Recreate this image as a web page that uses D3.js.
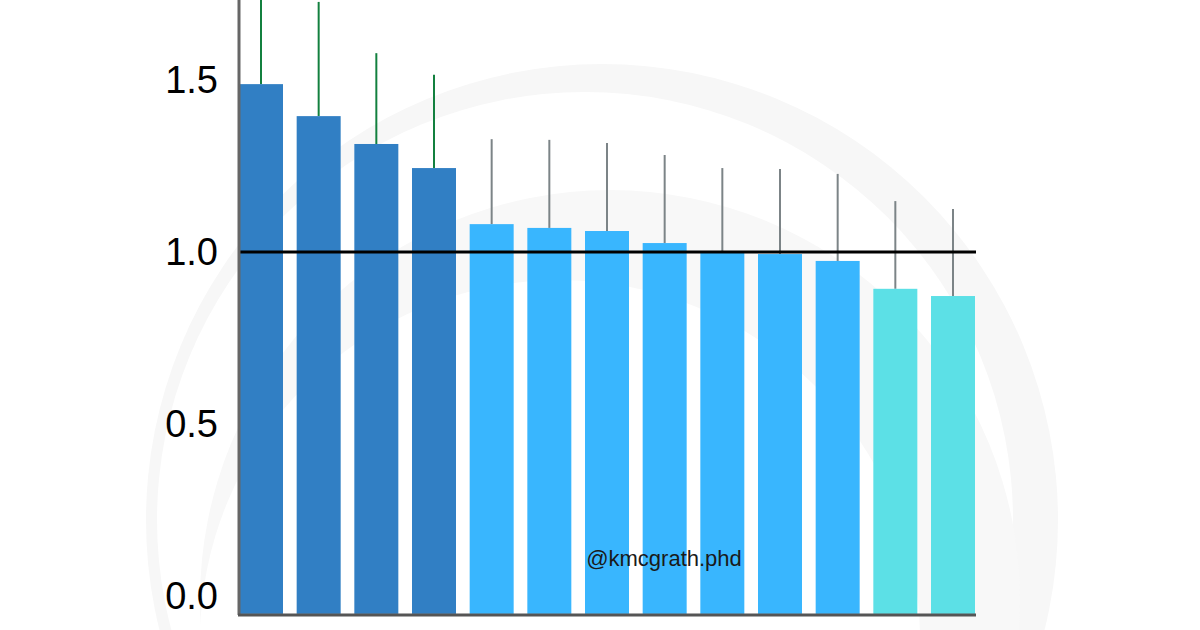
<!DOCTYPE html>
<html>
<head>
<meta charset="utf-8">
<script src="https://cdn.jsdelivr.net/npm/d3@7"></script>
<style>
  html, body { margin: 0; padding: 0; background: #fff; }
  svg { display: block; }
</style>
</head>
<body>
<svg id="chart" width="1200" height="630"></svg>
<script>
// values
var bars = [0, 1, 2, 3, 4, 5, 6, 7, 8, 9, 10, 11, 12];
var values = [1.488, 1.395, 1.314, 1.244, 1.081, 1.070, 1.061, 1.026, 0.997, 0.994, 0.974, 0.893, 0.872];
var upper = [1.80, 1.727, 1.578, 1.515, 1.328, 1.326, 1.317, 1.282, 1.244, 1.241, 1.227, 1.148, 1.125];
var groups = ['high', 'high', 'high', 'high', 'mid', 'mid', 'mid', 'mid', 'mid', 'mid', 'mid', 'low', 'low'];
var yTicks = [0.0, 0.5, 1.0, 1.5];
var refValue = 1.0;
var baseValue = -0.052; // bars run down to the axis line

var fill = { high: '#317fc4', mid: '#39b6fe', low: '#5ce0e6' };
var errColor = { high: '#13803f', mid: '#7c8487', low: '#7c8487' };

var svg = d3.select('#chart');

// faint round watermark behind the plot
var wm = svg.append('g').attr('class', 'watermark');
wm.append('circle').attr('cx', 602).attr('cy', 520).attr('r', 456).attr('fill', '#f7f7f7');
wm.append('circle').attr('cx', 585).attr('cy', 520).attr('r', 428).attr('fill', '#ffffff');
wm.append('circle').attr('cx', 610).attr('cy', 600).attr('r', 410).attr('fill', '#f8f8f8');
wm.append('circle').attr('cx', 560).attr('cy', 640).attr('r', 360).attr('fill', '#ffffff');

var y = d3.scaleLinear().domain([0, 1]).range([596, 252]);
var x = d3.scalePoint().domain(bars).range([261, 953]);
var barW = 44;

// error bars (drawn first, bars sit on top)
svg.append('g').selectAll('line')
  .data(bars)
  .enter().append('line')
    .attr('x1', function(d) { return x(d); })
    .attr('x2', function(d) { return x(d); })
    .attr('y1', function(d) { return y(values[d]); })
    .attr('y2', function(d) { return y(upper[d]); })
    .attr('stroke', function(d) { return errColor[groups[d]]; })
    .attr('stroke-width', 2);

svg.append('g').selectAll('rect')
  .data(bars)
  .enter().append('rect')
    .attr('x', function(d) { return x(d) - barW / 2; })
    .attr('width', barW)
    .attr('y', function(d) { return y(values[d]); })
    .attr('height', function(d) { return y(baseValue) - y(values[d]); })
    .attr('fill', function(d) { return fill[groups[d]]; });

// reference line at 1.0
svg.append('line')
  .attr('x1', 240).attr('x2', 976)
  .attr('y1', y(refValue)).attr('y2', y(refValue))
  .attr('stroke', '#000').attr('stroke-width', 3);

// y axis
var yAxis = d3.axisLeft(y).tickValues(yTicks).tickFormat(d3.format('.1f')).tickSize(0).tickPadding(21);
var gy = svg.append('g').attr('transform', 'translate(239,0)').call(yAxis);
gy.select('.domain').remove();
gy.selectAll('text')
  .attr('font-family', '"Liberation Sans", Arial, sans-serif')
  .attr('font-size', 38)
  .attr('fill', '#000');

svg.append('line')
  .attr('x1', 239).attr('x2', 239)
  .attr('y1', 0).attr('y2', y(baseValue) + 1)
  .attr('stroke', '#666').attr('stroke-width', 3);
svg.append('line')
  .attr('x1', 238).attr('x2', 976)
  .attr('y1', y(baseValue) + 1).attr('y2', y(baseValue) + 1)
  .attr('stroke', '#555').attr('stroke-width', 3);

svg.append('text')
  .attr('x', 664).attr('y', 566)
  .attr('text-anchor', 'middle')
  .attr('font-family', '"Liberation Sans", Arial, sans-serif')
  .attr('font-size', 22)
  .attr('fill', '#1a1a1a')
  .text('@kmcgrath.phd');
</script>
</body>
</html>
